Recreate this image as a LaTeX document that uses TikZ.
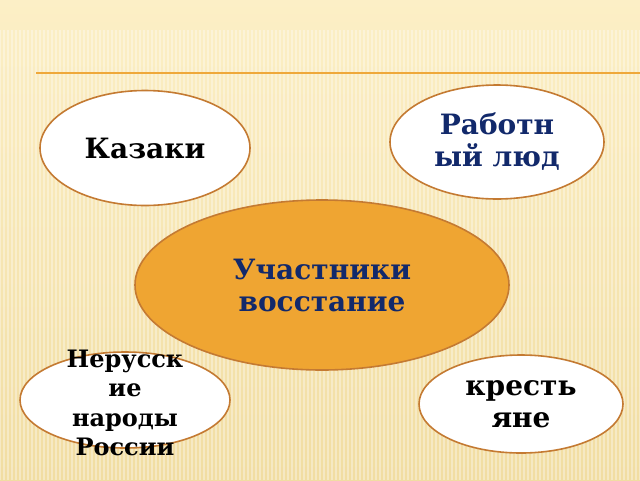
\documentclass[tikz,border=0pt]{standalone}
\usepackage{fontspec}
\setmainfont{DejaVu Serif}
\usetikzlibrary{shapes.geometric}
\usepackage{xcolor}
\definecolor{paper}{HTML}{FCEFC6}
\definecolor{paperdark}{HTML}{F1DDA2}
\definecolor{rim}{HTML}{C47A32}
\definecolor{amber}{HTML}{EFA532}
\definecolor{navy}{HTML}{12296B}
\definecolor{rule}{HTML}{EFA83A}
\begin{document}
\begin{tikzpicture}[x=1pt,y=-1pt,
  blob/.style={draw=rim, line width=1.6pt, fill=white, ellipse, inner sep=0pt},
  lbl/.style={font=\bfseries\fontsize{28}{32}\selectfont, align=center, inner sep=0pt},
  small/.style={font=\bfseries\fontsize{24}{29.5}\selectfont, align=center, inner sep=0pt}]
\useasboundingbox (0,0) rectangle (640,480);
\shade[top color=paper, bottom color=paperdark] (0,0) rectangle (640,480);
\foreach \x in {0,4,...,640} {
 \draw[white, line width=1.2pt, opacity=.35] (\x,30) -- (\x,480);
}
\draw[rule, line width=1.5pt] (36,73) -- (640,73);

\node[blob, minimum width=210, minimum height=115] (kaz) at (145,148) {};
\node[blob, minimum width=214, minimum height=114] (rab) at (497,142) {};
\node[blob, fill=amber, minimum width=374, minimum height=170] (uch) at (322,285) {};
\node[blob, minimum width=210, minimum height=96] (ner) at (125,400) {};
\node[blob, minimum width=204, minimum height=98] (kre) at (521,404) {};

\node[lbl] (kazT) at (kaz.center) {Казаки};
\node[lbl, text=navy] (rabT) at (rab.center) {Работн\\ый люд};
\node[lbl, text=navy] (uchT) at (uch.center) {Участники\\восстание};
\node[small, yshift=-3pt] (nerT) at (ner.center) {Нерусск\\ие\\народы\\России};
\node[lbl] (kreT) at (kre.center) {кресть\\яне};
\end{tikzpicture}
\end{document}
